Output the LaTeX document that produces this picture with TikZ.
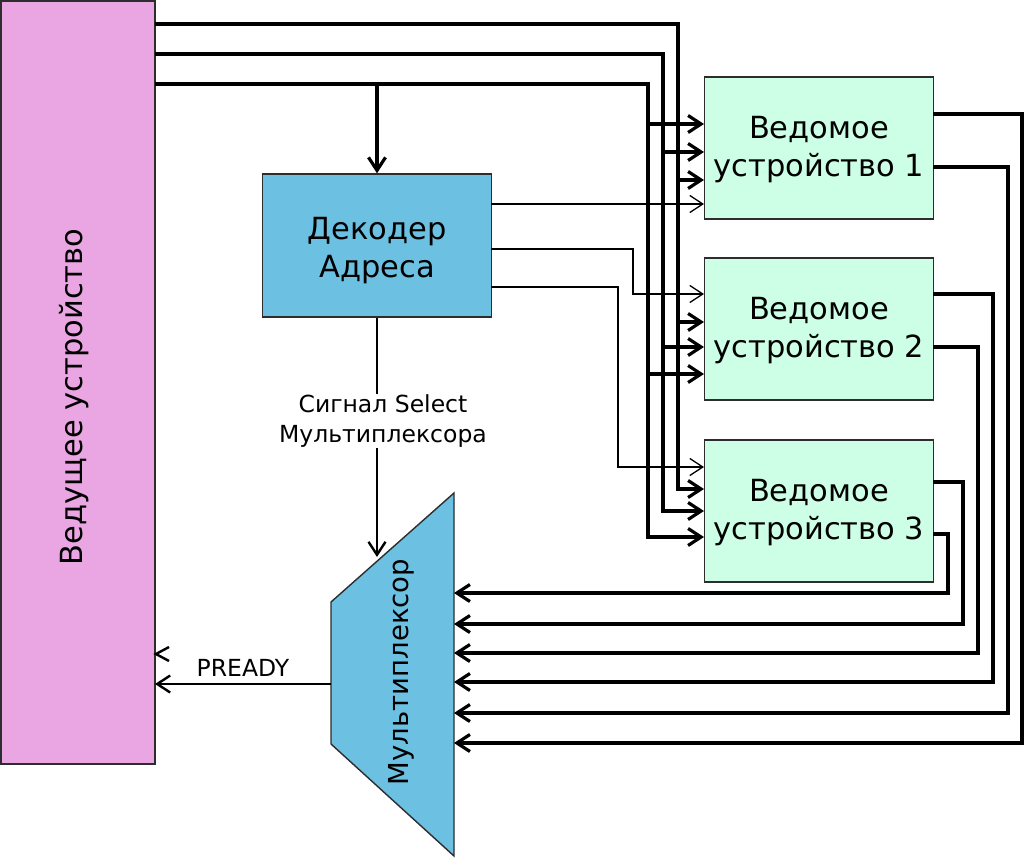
\documentclass[tikz,border=0pt]{standalone}
\usepackage{fontspec}
\setmainfont{DejaVu Sans}
\usetikzlibrary{arrows.meta}
\definecolor{pinkc}{RGB}{233,166,227}
\definecolor{bluec}{RGB}{108,192,226}
\definecolor{mintc}{RGB}{204,255,230}
\definecolor{edgec}{RGB}{45,45,45}
\begin{document}
\begin{tikzpicture}[x=1pt,y=-1pt,
  box/.style={draw=edgec, line width=1.4pt, inner sep=0pt, align=center, font=\fontsize{30.5}{40}\selectfont},
  bigtext/.style={align=center, inner sep=0pt, font=\fontsize{30.5}{38}\selectfont},
  bus/.style={line width=3.2pt},
  sig/.style={line width=1.3pt},
  mid/.style={line width=2.4pt},
  tip/.style={-{Straight Barb[length=13pt,width=17pt]}},
  small/.style={font=\fontsize{23.5}{30}\selectfont, align=center, inner sep=1pt}]
\useasboundingbox (0,0) rectangle (1024,858);
% master
\node[box, fill=pinkc, minimum width=154pt, minimum height=763pt] (M) at (78,382.5) {};
\node[rotate=90, font=\fontsize{30.5}{40}\selectfont] (Mt) at (74,397) {Ведущее устройство};
% decoder
\node[box, fill=bluec, minimum width=229pt, minimum height=143pt] (D) at (377,245.5) {};
\node[bigtext] (Dt) at (377,251) {Декодер\\Адреса};
% slaves
\node[box, fill=mintc, minimum width=229pt, minimum height=142pt] (S1) at (819,148) {};
\node[bigtext] (S1t) at (819,150) {Ведомое\\устройство 1};
\node[box, fill=mintc, minimum width=229pt, minimum height=142pt] (S2) at (819,329) {};
\node[bigtext] (S2t) at (819,331) {Ведомое\\устройство 2};
\node[box, fill=mintc, minimum width=229pt, minimum height=142pt] (S3) at (819,511) {};
\node[bigtext] (S3t) at (819,513) {Ведомое\\устройство 3};
% multiplexer
\coordinate (xTL) at (331,602);
\coordinate (xTR) at (454,493);
\coordinate (xBR) at (454,856);
\coordinate (xBL) at (331,744);
\draw[draw=edgec, line width=1.4pt, fill=bluec] (xTL) -- (xTR) -- (xBR) -- (xBL) -- cycle;
\node[rotate=90, font=\fontsize{27.5}{40}\selectfont] (X) at (401,672) {Мультиплексор};
% master buses
\draw[bus,tip] (155,24) -| (678,489) -- (704,489);
\draw[bus,tip] (155,54) -| (663,511) -- (704,511);
\draw[bus,tip] (155,84) -| (648,537) -- (704,537);
\draw[bus,tip] (678,180) -- (704,180);
\draw[bus,tip] (678,322) -- (704,322);
\draw[bus,tip] (663,152) -- (704,152);
\draw[bus,tip] (663,347) -- (704,347);
\draw[bus,tip] (648,124) -- (704,124);
\draw[bus,tip] (648,374) -- (704,374);
\draw[bus,tip] (377,84) -- (D.north);
% decoder selects
\draw[sig,tip] (491,204) -- (704,204);
\draw[sig,tip] (491,249) -| (633,294) -- (704,294);
\draw[sig,tip] (491,287) -| (618,467) -- (704,467);
% returns
\draw[bus,tip] (933,114) -| (1022,743) -- (454,743);
\draw[bus,tip] (933,167) -| (1008,713) -- (454,713);
\draw[bus,tip] (933,294) -| (993,682) -- (454,682);
\draw[bus,tip] (933,347) -| (978,653) -- (454,653);
\draw[bus,tip] (933,482) -| (963,624) -- (454,624);
\draw[bus,tip] (933,534) -| (948,593) -- (454,593);
% select to mux
\coordinate (selEnd) at (377,557);
\draw[mid,tip] (D.south) -- (selEnd);
\node[small, fill=white] (selLbl) at (383,421) {Сигнал Select\\Мультиплексора};
% PREADY
\coordinate (prEnd) at (155,684);
\draw[mid,tip] (xTL |- prEnd) -- (prEnd);
\node[small] (pr) at (243,668) {PREADY};
\coordinate (tipA) at (156,654);
\draw[mid] (169,647) -- (tipA) -- (169,661);
\end{tikzpicture}
\end{document}
